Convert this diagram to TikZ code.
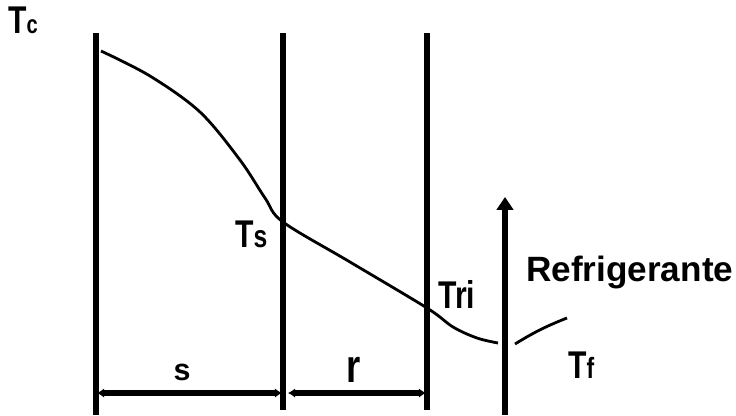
\documentclass[tikz,border=0pt]{standalone}
\usepackage{fontspec}
\setmainfont{Liberation Sans}
\newfontfamily\narrowsans[FakeStretch=0.78]{Liberation Sans Bold}
\newfontfamily\boldsans{Liberation Sans Bold}
\usetikzlibrary{arrows.meta}
\tikzset{
  wall/.style={
    line width=5.2pt
  },
  profile/.style={
    line width=2.4pt,
    smooth,
    tension=0.55
  },
  dimline/.style={
    line width=4.6pt,
    {Latex[length=6pt,width=8pt]}-{Latex[length=6pt,width=8pt]}
  },
  flow/.style={
    line width=5.4pt,
    -{Triangle[length=11pt,width=14pt]}
  },
  lbl/.style={
    inner sep=0pt,
    anchor=base west,
    font=\narrowsans\fontsize{33}{34}\selectfont
  },
  every picture/.style={
    x=0.03cm,
    y=-0.03cm
  }
}
\newcommand{\smalltxt}[2]{{\fontsize{#1}{#1}\selectfont #2}}

\begin{document}
\begin{tikzpicture}
            \useasboundingbox (0,0) rectangle (736,415);
            % walls: left face, interface, right face
            \foreach \n/\x/\b in {a/96/415,b/283/410,c/427/410}{
                    \coordinate (\n top) at (\x,33);
                    \coordinate (\n bot) at (\x,\b);
                    \draw[wall] (\n top)--(\n bot);
                }
            \coordinate (ts) at (283,222);
            \coordinate (tri) at (427,308);
            \coordinate (fa) at (515,344);
            \coordinate (fb) at (567,318);
            \draw[profile] plot coordinates {(101,51) (150,76) (200,112) (240,160) (265,198) (ts) (350,262) (tri) (453,327) (477,338) (498,343)};
            \draw[line width=2.4pt] (fa) to[bend left=5] (fb);
            % dimensions
            \coordinate (sl) at (97,393);
            \coordinate (sr) at (282,393);
            \coordinate (rl) at (288,393);
            \coordinate (rr) at (426,393);
            \draw[dimline] (sl)--(sr);
            \draw[dimline] (rl)--(rr);
            \node[inner sep=0pt,anchor=base,font=\boldsans\fontsize{26}{28}\selectfont] (s) at (182,380) {s};
            \node[lbl,anchor=base] (r) at (354,382) {\smalltxt{40}{r}};
            % coolant
            \coordinate (cb) at (505,415);
            \coordinate (ct) at (505,197);
            \draw[flow] (cb)--(ct);
            \node[inner sep=0pt,anchor=base west,font=\boldsans\fontsize{30}{32}\selectfont] (refri) at (526,281) {Refrigerante};
            % temperatures
            \node[lbl] (tc) at (8,33) {T\smalltxt{22}{c}};
            \node[lbl] (tsl) at (235,247) {T\smalltxt{27}{s}};
            \node[lbl] (tril) at (438,308) {Tri};
            \node[lbl] (tf) at (568,378) {T\smalltxt{25}{f}};
        \end{tikzpicture}
\end{document}
